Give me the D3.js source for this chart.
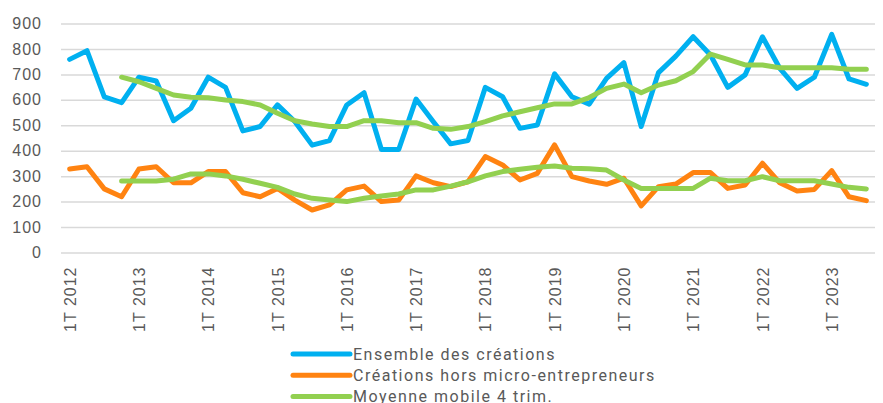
<!DOCTYPE html>
<html>
<head>
<meta charset="utf-8">
<script src="https://cdn.jsdelivr.net/npm/d3@7"></script>
<style>
  body { margin: 0; background: #fff; }
  svg { font-family: Roboto, "Noto Sans", sans-serif; }
</style>
</head>
<body>
<svg id="chart" width="883" height="403"></svg>
<script>
const years = d3.range(2012, 2024)
const quarters = years.flatMap((y) => [1, 2, 3, 4].map((q) => `${q}T ${y}`)).slice(0, 47)

const ensemble = [759, 793, 612, 589, 689, 674, 518, 567, 689, 649, 478, 495, 580, 515, 422, 440,
    580, 628, 405, 405, 603, 514, 427, 440, 649, 612, 488, 501, 702, 612, 583, 684,
    746, 495, 707, 772, 848, 776, 649, 698, 848, 724, 645, 689, 857, 682, 661]

const horsMicro = [328, 337, 250, 219, 328, 337, 274, 274, 318, 318, 235, 219, 252, 206, 167, 187,
    246, 261, 200, 206, 301, 274, 259, 278, 377, 344, 285, 311, 423, 298, 281, 268,
    292, 183, 259, 269, 314, 314, 252, 265, 351, 274, 242, 248, 322, 219, 204]

const moyEnsemble = [null, null, null, 689, 671, 645, 619, 610, 608, 599, 593, 580, 547, 518, 505, 495,
    495, 518, 518, 510, 510, 488, 484, 495, 514, 537, 553, 569, 584, 584, 609, 645,
    662, 628, 658, 675, 711, 780, 759, 737, 737, 726, 726, 726, 726, 720, 720]

const moyHorsMicro = [null, null, null, 281, 281, 281, 288, 309, 309, 301, 288, 272, 256, 230, 213, 206,
    200, 213, 222, 230, 246, 246, 261, 278, 301, 318, 327, 335, 340, 331, 329, 324,
    285, 252, 252, 252, 252, 292, 282, 282, 298, 282, 282, 282, 269, 256, 250]

const yTicks = d3.range(0, 1000, 100)

const series = [
    { name: "Ensemble des créations", values: ensemble, color: "#00b0f0" },
    { name: "Créations hors micro-entrepreneurs", values: horsMicro, color: "#ff8311" },
    { name: "Moyenne mobile 4 trim.", values: moyEnsemble, color: "#92d050" },
    { name: null, values: moyHorsMicro, color: "#92d050" },
]

const svg = d3.select("#chart")
const plotLeft = 61, plotRight = 875, plotTop = 23.5, plotBottom = 252.5

const x = d3.scalePoint().domain(quarters).range([plotLeft, plotRight]).padding(0.5)
const y = d3.scaleLinear().domain([0, 900]).range([plotBottom, plotTop])

const textColor = "#595959"

// gridlines + y labels
const yAxis = svg.append("g")
    .attr("transform", `translate(${plotLeft},0)`)
    .call(d3.axisLeft(y).tickValues(yTicks).tickSize(-(plotRight - plotLeft)).tickPadding(19))
yAxis.select(".domain").remove()
yAxis.selectAll(".tick line").attr("stroke", "#d9d9d9").attr("stroke-width", 1.5)
yAxis.selectAll(".tick text")
    .attr("fill", textColor)
    .style("font-size", "16px")
    .style("letter-spacing", "1px")

// x labels, only every 1st quarter
const xAxis = svg.append("g")
    .attr("transform", `translate(0,${plotBottom})`)
    .call(d3.axisBottom(x).tickValues(quarters.filter((q) => q.startsWith("1T"))).tickSize(0))
xAxis.select(".domain").remove()
xAxis.selectAll(".tick text")
    .attr("fill", textColor)
    .style("font-size", "16px")
    .style("letter-spacing", "1px")
    .attr("transform", "rotate(-90)")
    .attr("text-anchor", "end")
    .attr("x", -14)
    .attr("y", 0)
    .attr("dy", "0.35em")

const line = d3.line()
    .defined((d) => d != null)
    .x((d, i) => x(quarters[i]))
    .y((d) => y(d))

// draw order: blue, orange, then green on top
svg.append("g")
    .selectAll("path")
    .data(series)
    .join("path")
    .attr("fill", "none")
    .attr("stroke", (d) => d.color)
    .attr("stroke-width", 5)
    .attr("stroke-linejoin", "round")
    .attr("stroke-linecap", "round")
    .attr("d", (d) => line(d.values))

// legend
const legend = svg.append("g")
    .selectAll("g")
    .data(series.filter((d) => d.name))
    .join("g")
    .attr("transform", (d, i) => `translate(293,${354 + i * 21.3})`)

legend.append("line")
    .attr("x1", 0)
    .attr("x2", 57)
    .attr("stroke", (d) => d.color)
    .attr("stroke-width", 5)
    .attr("stroke-linecap", "round")

legend.append("text")
    .attr("x", 60)
    .attr("dy", "0.35em")
    .attr("fill", textColor)
    .style("font-size", "16px")
    .style("letter-spacing", "1.5px")
    .text((d) => d.name)
</script>
</body>
</html>
